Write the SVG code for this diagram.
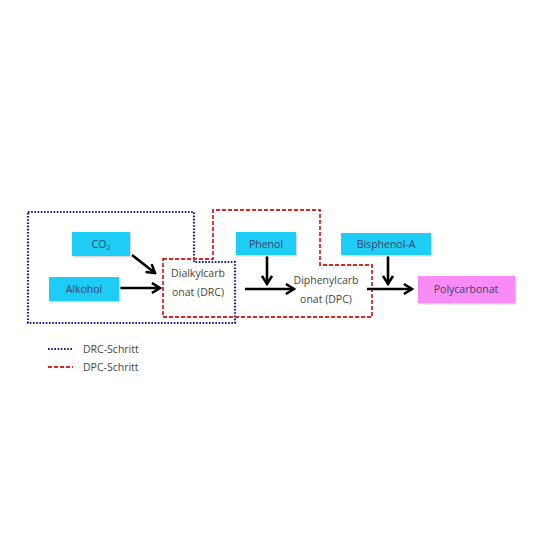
<svg xmlns="http://www.w3.org/2000/svg" width="540" height="540" viewBox="0 0 540 540">
<defs>
<style>
.box{fill:#1dcdf5;}
.pink{fill:#f98bf7;}
.sh{fill:#d8d8d8;}
.t{font-family:"Open Sans","Liberation Sans",sans-serif;font-size:10.5px;fill:#3a3f66;text-anchor:middle;}
.d{fill:#444;}
.lt{font-family:"Open Sans","Liberation Sans",sans-serif;font-size:10.5px;fill:#444;}
.blue{fill:none;stroke:#1c1c8a;stroke-width:2.2;stroke-dasharray:1.6 1.6;}
.red{fill:none;stroke:#e02424;stroke-width:1.8;stroke-dasharray:4 2;}
.arr{stroke:#000;stroke-width:2.6;fill:none;marker-end:url(#ah);}
</style>
<marker id="ah" viewBox="0 0 10 10" refX="8.5" refY="5" markerWidth="4.8" markerHeight="4.8" orient="auto" markerUnits="strokeWidth">
<polyline points="2,1 8.5,5 2,9" fill="none" stroke="#000" stroke-width="2"/>
</marker>
</defs>
<rect width="540" height="540" fill="#fff"/>
<g id="regions">
<polygon class="blue" points="28,212 194,212 194,262 235,262 235,323 28,323"/>
<polygon class="red" points="163,259 213,259 213,210 320,210 320,265 372,265 372,317 163,317"/>
</g>
<g id="connectors">
<line class="arr" x1="132" y1="255" x2="155" y2="273"/>
<line class="arr" x1="119" y1="288" x2="160" y2="288"/>
<line class="arr" x1="267" y1="255" x2="267" y2="284"/>
<line class="arr" x1="245" y1="289" x2="294" y2="289"/>
<line class="arr" x1="388" y1="255" x2="388" y2="284"/>
<line class="arr" x1="367" y1="289" x2="412" y2="289"/>
</g>
<g id="co2">
<rect class="sh" x="73.5" y="233.5" width="58" height="24"/>
<rect class="box" x="72" y="232" width="58" height="24"/>
<text class="t" x="101" y="248">CO<tspan font-size="7" dy="2">2</tspan></text>
</g>
<g id="alkohol">
<rect class="sh" x="50.5" y="278.5" width="70" height="24"/>
<rect class="box" x="49" y="277" width="70" height="24"/>
<text class="t" x="84" y="293">Alkohol</text>
</g>
<g id="drc">
<text class="t d" x="198" y="277">Dialkylcarb</text>
<text class="t d" x="198" y="296">onat (DRC)</text>
</g>
<g id="phenol">
<rect class="sh" x="237.5" y="233.5" width="60" height="23"/>
<rect class="box" x="236" y="232" width="60" height="23"/>
<text class="t" x="266" y="248">Phenol</text>
</g>
<g id="dpc">
<text class="t d" x="326" y="284">Diphenylcarb</text>
<text class="t d" x="326" y="303">onat (DPC)</text>
</g>
<g id="bisphenol">
<rect class="sh" x="342.5" y="234.5" width="90" height="22"/>
<rect class="box" x="341" y="233" width="90" height="22"/>
<text class="t" x="386" y="248">Bisphenol-A</text>
</g>
<g id="polycarbonat">
<rect class="sh" x="419.5" y="277.5" width="97" height="27"/>
<rect class="pink" x="418" y="276" width="97" height="27"/>
<text class="t" x="466" y="293">Polycarbonat</text>
</g>
<g id="legend">
<line class="blue" x1="48" y1="349" x2="73" y2="349"/>
<text class="lt" x="83" y="353">DRC-Schritt</text>
<line class="red" x1="48" y1="367" x2="73" y2="367" style="stroke-width:2.2"/>
<text class="lt" x="83" y="371">DPC-Schritt</text>
</g>
</svg>
